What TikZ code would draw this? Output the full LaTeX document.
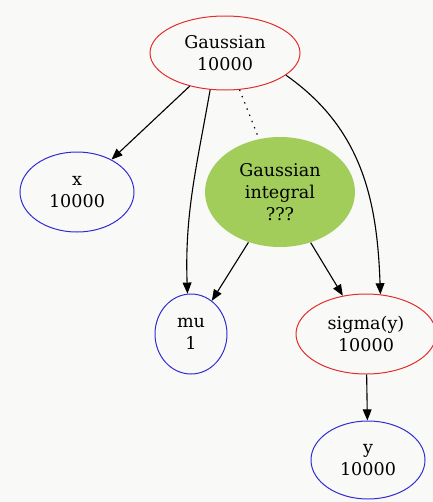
\documentclass[tikz,border=0pt]{standalone}
\usepackage{fontspec}
\setmainfont{DejaVu Serif}
\usetikzlibrary{shapes.geometric,arrows.meta}
\definecolor{bgcol}{RGB}{249,250,248}
\definecolor{redline}{RGB}{226,44,44}
\definecolor{blueline}{RGB}{48,44,210}
\definecolor{intgreen}{RGB}{162,205,90}

\begin{document}
\begin{tikzpicture}[x=0.03cm, y=-0.03cm,
    var/.style={ellipse, draw, line width=0.85pt, inner sep=0pt, align=center,
      font=\fontsize{15}{18.7}\selectfont},
    obs/.style={var, draw=blueline},
    lat/.style={var, draw=redline},
    edge/.style={line width=0.95pt, -{Triangle[length=9.5pt, width=7.5pt]}}]
    \fill[bgcol] (0,0) rectangle (433,502);
    \useasboundingbox (0,0) rectangle (433,502);

    \node[lat, minimum width=4.5cm, minimum height=2.22cm] (G) at (225, 53) {Gaussian\\10000};
    \node[obs, minimum width=3.42cm, minimum height=2.4cm] (X) at (77, 192) {x\\10000};
    \node[var, draw=none, fill=intgreen, minimum width=4.5cm, minimum height=3.3cm] (GI) at (280, 192) {Gaussian\\integral\\???};
    \node[obs, minimum width=2.16cm, minimum height=2.4cm] (MU) at (191, 334) {mu\\1};
    \node[lat, minimum width=4.2cm, minimum height=2.4cm] (S) at (366, 334) {sigma(y)\\10000};
    \node[obs, minimum width=3.42cm, minimum height=2.34cm] (Y) at (368, 460) {y\\10000};

    % 矢印を引く
    \draw[edge] (G) -- (X);
    \draw[edge] (G.-112) to[out=-100, in=92] (MU.95);
    \draw[line width=1pt, dash pattern=on 1.2pt off 4.5pt] (G) -- (GI);
    \draw[edge] (G.-20) to[out=-35, in=92] (S.70);
    \draw[edge] (GI) -- (MU);
    \draw[edge] (GI) -- (S);
    \draw[edge] (S) -- (Y);
\end{tikzpicture}
\end{document}
